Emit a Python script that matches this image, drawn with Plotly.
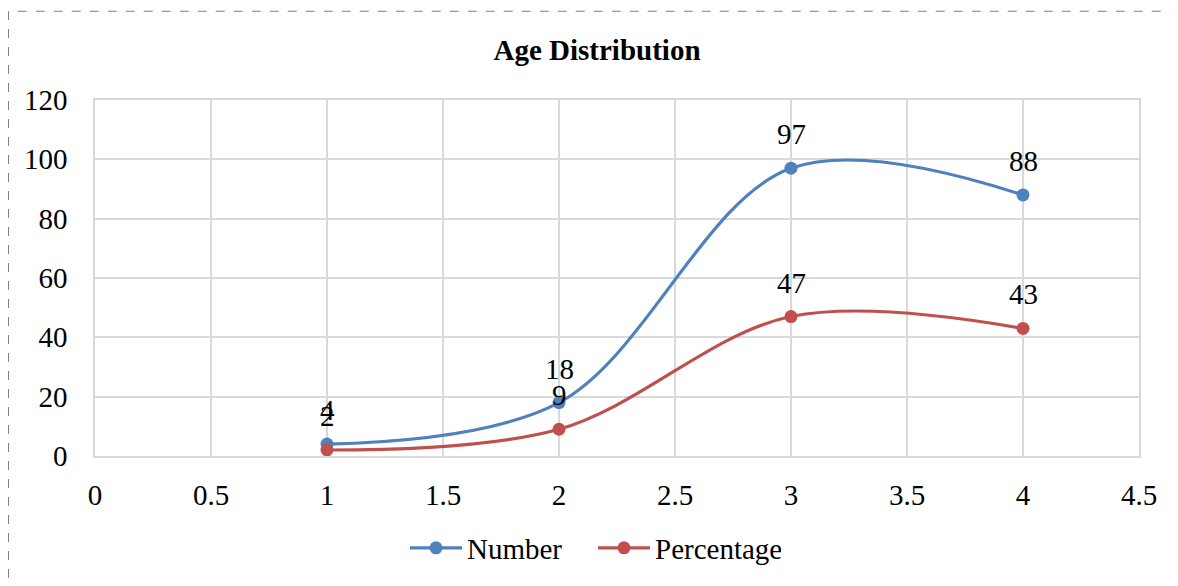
import plotly.graph_objects as go

x_vals = [1, 2, 3, 4]
number = [4, 18, 97, 88]
percentage = [2, 9, 47, 43]
x_ticks = [0, 0.5, 1, 1.5, 2, 2.5, 3, 3.5, 4, 4.5]
x_tick_text = ["0", "0.5", "1", "1.5", "2", "2.5", "3", "3.5", "4", "4.5"]
y_ticks = [0, 20, 40, 60, 80, 100, 120]

FONT = "Liberation Serif, Times New Roman, serif"
BLUE = "#4F81BD"
RED = "#C0504D"
FS = 29

W, H = 1170, 578
L, R, T, B = 87, 39, 92, 129
PW = W - L - R
PH = H - T - B

fig = go.Figure()
for name, vals, col in [("Number", number, BLUE), ("Percentage", percentage, RED)]:
    fig.add_trace(go.Scatter(
        x=x_vals, y=vals, name=name, mode="lines+markers",
        line=dict(color=col, width=3.2, shape="spline", smoothing=1.0),
        marker=dict(color=col, size=13),
    ))

annotations = []
for vals in (number, percentage):
    for xv, yv in zip(x_vals, vals):
        annotations.append(dict(
            x=xv, y=yv, xref="x", yref="y", text=str(yv), showarrow=False,
            yanchor="middle", yshift=34, font=dict(family=FONT, size=FS, color="#000"),
        ))

fig.update_layout(
    width=W, height=H,
    margin=dict(l=L, r=R, t=T, b=B),
    paper_bgcolor="white", plot_bgcolor="white",
    font=dict(family=FONT, size=FS, color="#000"),
    title=dict(text="<b>Age Distribution</b>", x=589 / W, xref="container",
               xanchor="center", y=1 - 42 / H, yanchor="middle",
               font=dict(family=FONT, size=FS, color="#000")),
    xaxis=dict(range=[0, 4.5], tickvals=x_ticks, ticktext=x_tick_text,
               showgrid=True, gridcolor="#D9D9D9", gridwidth=1.5,
               showline=True, linecolor="#D9D9D9", linewidth=1.5, mirror=True,
               zeroline=False, ticks="", ticklabelstandoff=12,
               tickfont=dict(family=FONT, size=FS)),
    yaxis=dict(range=[0, 120], tickvals=y_ticks,
               showgrid=True, gridcolor="#D9D9D9", gridwidth=1.5,
               showline=True, linecolor="#D9D9D9", linewidth=1.5, mirror=True,
               zeroline=False, ticks="", ticklabelstandoff=20,
               tickfont=dict(family=FONT, size=FS)),
    legend=dict(orientation="h", x=585 / W, xref="container", xanchor="center",
                y=1 - 540 / H, yref="container", yanchor="middle",
                font=dict(family=FONT, size=FS, color="#000"), itemwidth=52,
                entrywidth=121),
    showlegend=True,
    annotations=annotations,
    shapes=[dict(type="rect", xref="paper", yref="paper",
                 x0=(0.5 - L) / PW, x1=(W + 10 - L) / PW,
                 y0=-(B + 20) / PH, y1=(PH + T - 3) / PH,
                 line=dict(color="#808080", width=1, dash="dash"), layer="below")],
)

fig.write_html("out.html")
